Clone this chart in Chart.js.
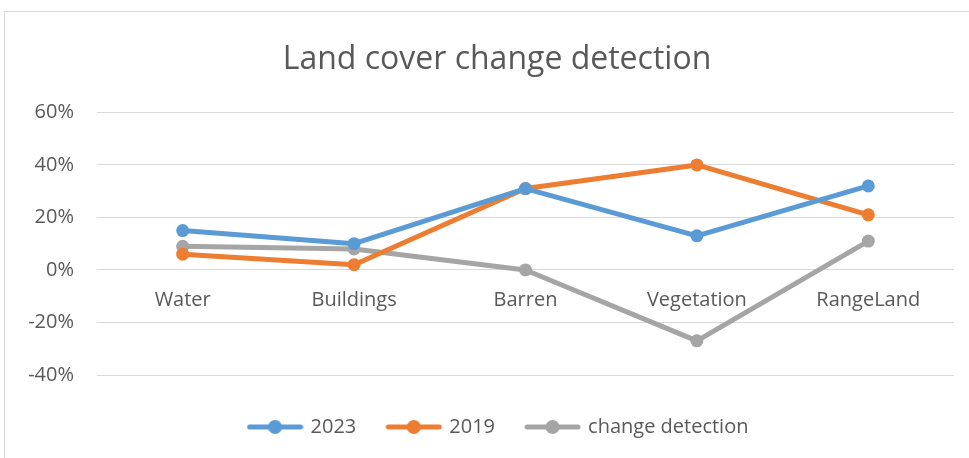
<!DOCTYPE html>
<html><head><meta charset="utf-8">
<script src="https://cdn.jsdelivr.net/npm/chart.js@4"></script>
<style>html,body{margin:0;padding:0;background:#fff}#wrap{width:969px;height:458px}</style>
</head><body><div id="wrap"><canvas id="c" width="969" height="458"></canvas></div>
<script>
const categories = ['Water', 'Buildings', 'Barren', 'Vegetation', 'RangeLand'];
const series2023 = [15, 10, 31, 13, 32];
const series2019 = [6, 2, 31, 40, 21];
const seriesChange = [9, 8, 0, -27, 11];
const yTicks = [-40, -20, 0, 20, 40, 60];
const seriesNames = ['2023', '2019', 'change detection'];
const titleText = 'Land cover change detection';

const colors = ['#5B9BD5', '#ED7D31', '#A5A5A5'];
const FONT = "'Open Sans', 'DejaVu Sans', sans-serif";
const TXT = '#595959';

function legendImg(color) {
  const c = document.createElement('canvas');
  c.width = 57; c.height = 16;
  const g = c.getContext('2d');
  g.strokeStyle = color; g.lineWidth = 5; g.lineCap = 'round';
  g.beginPath(); g.moveTo(3, 8); g.lineTo(54, 8); g.stroke();
  g.fillStyle = color; g.beginPath(); g.arc(28.5, 8, 7, 0, Math.PI * 2); g.fill();
  return c;
}

const frame = {
  id: 'frame',
  beforeDraw(chart) {
    const g = chart.ctx;
    g.save();
    g.fillStyle = '#fff'; g.fillRect(0, 0, chart.width, chart.height);
    g.strokeStyle = '#d9d9d9'; g.lineWidth = 1;
    g.strokeRect(4.5, 11.5, chart.width + 20, chart.height + 20);
    g.restore();
  }
};

// shift the title and legend so they are centred like the original
const blockShift = {
  id: 'blockShift',
  afterLayout(chart) {
    if (chart.legend) { chart.legend.left += 22; chart.legend.right += 22; }
    if (chart.titleBlock) { chart.titleBlock.left += 20; chart.titleBlock.right += 20; }
  }
};

const allSeries = [series2023, series2019, seriesChange];
const datasets = allSeries.map((d, i) => ({
  label: seriesNames[i],
  data: d,
  borderColor: colors[i],
  backgroundColor: colors[i],
  borderWidth: 5,
  pointRadius: 6.5,
  pointHoverRadius: 6.5,
  pointBorderWidth: 0,
  pointStyle: 'circle',
  borderJoinStyle: 'round',
  tension: 0,
  xAxisID: 'x',
  yAxisID: 'y'
}));
const legendImgs = colors.map(legendImg);

new Chart(document.getElementById('c'), {
  type: 'line',
  data: { labels: categories, datasets },
  plugins: [frame, blockShift],
  options: {
    responsive: false,
    devicePixelRatio: 1,
    animation: false,
    events: [],
    layout: { padding: { left: 0, right: 15, top: 0, bottom: 11 } },
    plugins: {
      title: {
        display: true, text: titleText, color: TXT,
        font: { family: FONT, size: 32, weight: 'normal' },
        padding: { top: 41, bottom: 33 }
      },
      legend: {
        display: true, position: 'bottom',
        labels: {
          usePointStyle: true, pointStyleWidth: 51,
          color: TXT, font: { family: FONT, size: 20 }, padding: 32,
          generateLabels(chart) {
            return chart.data.datasets.map((ds, i) => ({
              text: ds.label, fillStyle: ds.borderColor, strokeStyle: ds.borderColor,
              fontColor: TXT, lineWidth: 0, pointStyle: legendImgs[i], datasetIndex: i, hidden: false
            }));
          }
        }
      },
      tooltip: { enabled: false }
    },
    scales: {
      x: {
        type: 'category', position: { y: 0 }, offset: true,
        grid: { display: false, offset: true }, border: { display: false },
        ticks: { color: TXT, font: { family: FONT, size: 20 }, padding: 10, maxRotation: 0 }
      },
      spacer: {
        type: 'linear', position: 'bottom', axis: 'x',
        grid: { display: false }, border: { display: false },
        ticks: { display: false },
        afterFit(s) { s.height = 10; s.paddingLeft = 0; s.paddingRight = 0; }
      },
      y: {
        min: -40, max: 60,
        afterBuildTicks(s) { s.ticks = yTicks.map(v => ({ value: v })); },
        grid: { color: '#d9d9d9', lineWidth: 1, drawTicks: false },
        border: { display: false },
        ticks: { color: TXT, font: { family: FONT, size: 20 }, padding: 23, callback: v => v + '%' },
        afterFit(s) { s.width = 97; }
      }
    }
  }
});
</script>
</body></html>
